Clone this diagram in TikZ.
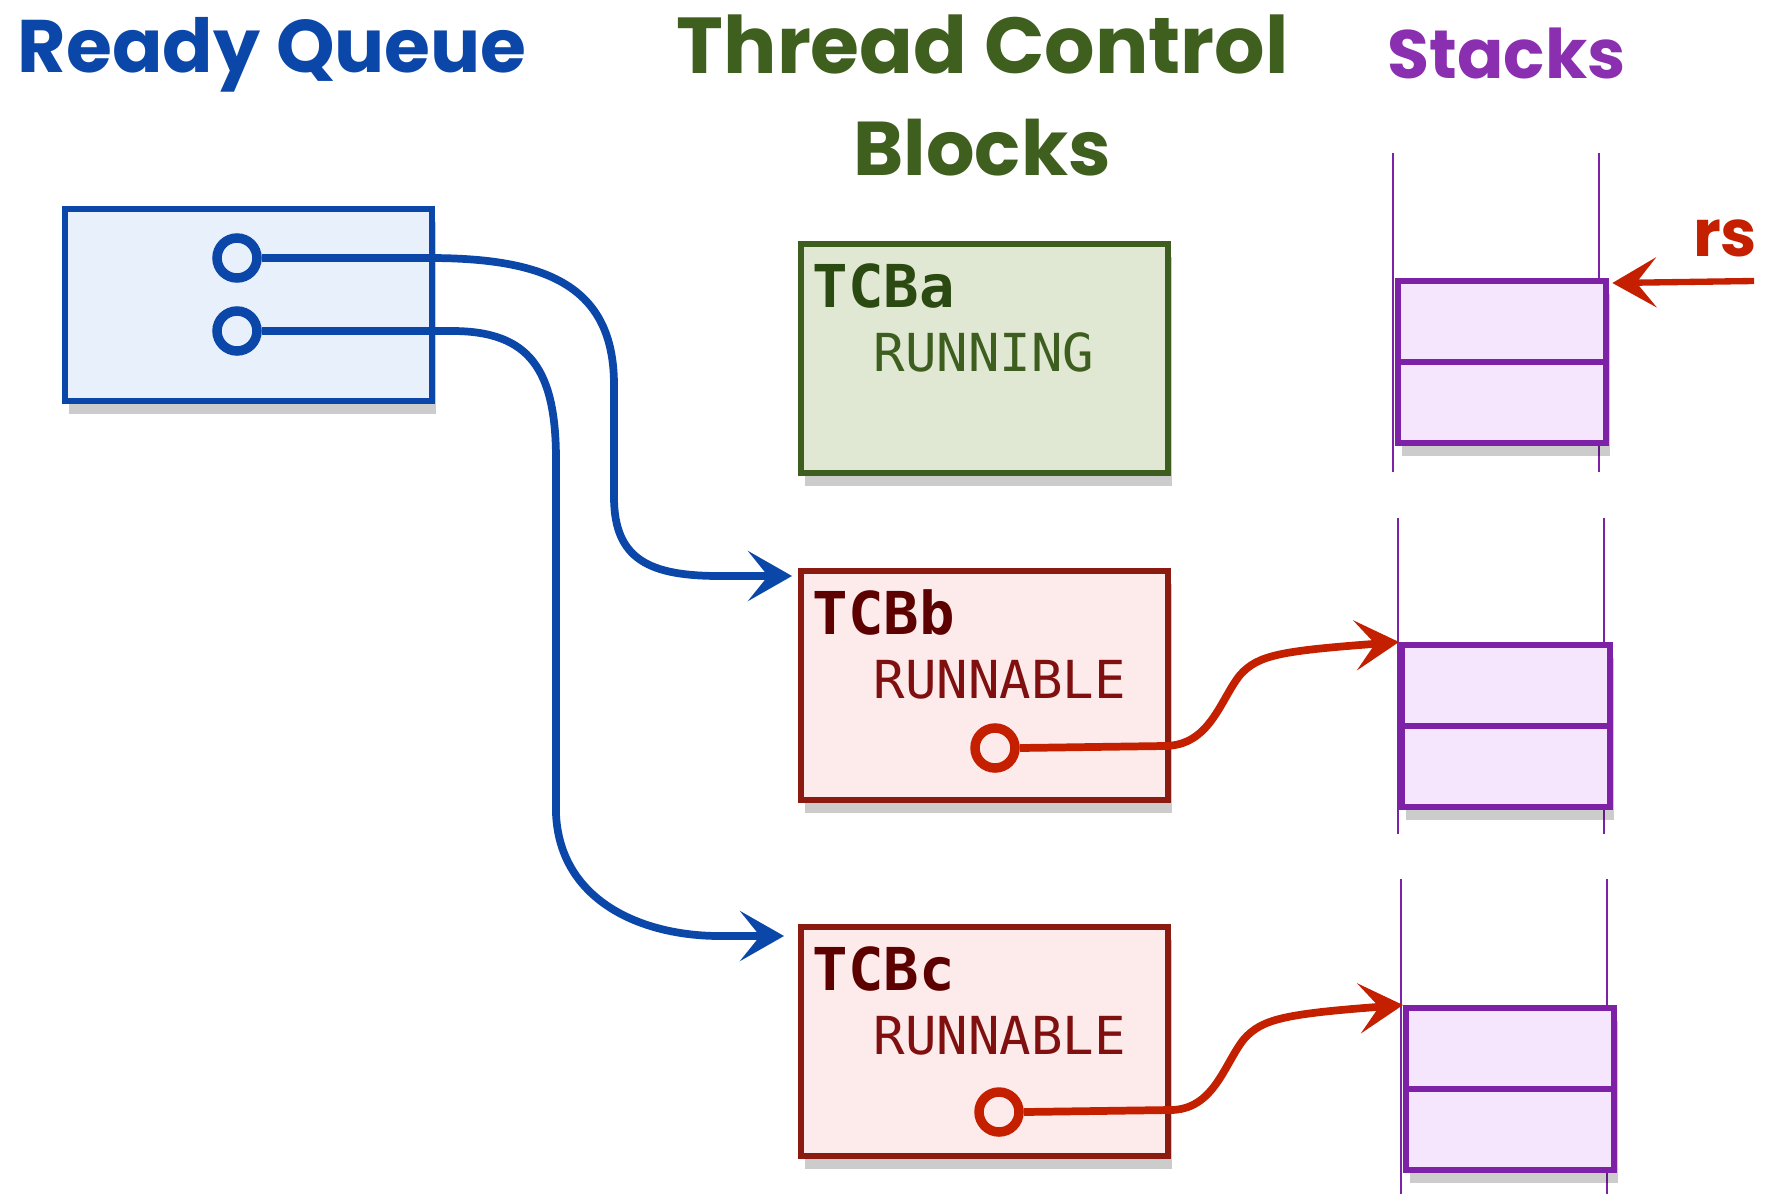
\documentclass[tikz,border=0pt]{standalone}
\usepackage{fontspec}
\setmonofont{DejaVu Sans Mono}
\newfontfamily\titlefont{Poppins}
\usetikzlibrary{arrows.meta,shadows,calc}
\definecolor{qblue}{HTML}{0B47A8}
\definecolor{qfill}{HTML}{E8F0FB}
\definecolor{gline}{HTML}{3D5E1E}
\definecolor{gfill}{HTML}{E0E8D4}
\definecolor{gtext}{HTML}{2B4A12}
\definecolor{rline}{HTML}{8B1A10}
\definecolor{rfill}{HTML}{FDEAEA}
\definecolor{rtext}{HTML}{5C0000}
\definecolor{rtext2}{HTML}{801010}
\definecolor{rarrow}{HTML}{C42000}
\definecolor{pline}{HTML}{7D22A6}
\definecolor{pfill}{HTML}{F6E6FD}
\definecolor{ptitle}{HTML}{8A2FB0}
\definecolor{gtitle}{HTML}{3F5F1F}
\begin{document}
\begin{tikzpicture}[x=0.1mm,y=-0.1mm,
  shad/.style={drop shadow={shadow xshift=0.4mm,shadow yshift=-1.3mm,opacity=0.2,fill=black}},
  boxbase/.style={anchor=north west,inner sep=0,line width=1.8pt,shad},
  qbox/.style={boxbase,draw=qblue,fill=qfill},
  gbox/.style={boxbase,draw=gline,fill=gfill},
  rbox/.style={boxbase,draw=rline,fill=rfill},
  tcbsize/.style={minimum width=36.7mm,minimum height=22.9mm},
  stackbox/.style={anchor=north west,inner sep=0,draw=pline,fill=pfill,line width=1.8pt,minimum width=20.8mm,minimum height=8.1mm,shad},
  stackline/.style={draw=pline,line width=0.8pt},
  ptr/.style={circle,inner sep=0,minimum size=4.0mm,line width=2.7pt},
  bluearrow/.style={draw=qblue,line width=2.2pt,-{Stealth[length=4.4mm,width=5mm,inset=2mm]}},
  redarrow/.style={draw=rarrow,line width=2.2pt,-{Stealth[length=4.4mm,width=5mm,inset=2mm]}},
  title/.style={anchor=base west,inner sep=0},
  tcbname/.style={anchor=base west,inner sep=0,font=\ttfamily\bfseries\fontsize{16.8pt}{20pt}\selectfont},
  tcbstate/.style={anchor=base west,inner sep=0,font=\ttfamily\fontsize{14.9pt}{18pt}\selectfont}
]
\useasboundingbox[fill=white] (0,0) rectangle (1772,1194);

% titles
\node[title,text=qblue] (tq) at (17,73) {\resizebox{50.9mm}{!}{\titlefont\bfseries Ready Queue}};
\node[title,text=gtitle] (tt) at (676,73) {\resizebox{61.2mm}{!}{\titlefont\bfseries Thread Control}};
\node[title,text=gtitle] (tb) at (853,175) {\resizebox{25.7mm}{!}{\titlefont\bfseries Blocks}};
\node[title,text=ptitle] (ts) at (1387,79) {\resizebox{23.8mm}{!}{\titlefont\bfseries Stacks}};

% ready queue
\node[qbox,minimum width=36.7mm,minimum height=19.2mm] (rq) at (62,206) {};
\node[ptr,draw=qblue] (q1) at (237,258) {};
\node[ptr,draw=qblue] (q2) at (237,331) {};

% TCBs
\node[gbox,tcbsize] (tcba) at (798,241) {};
\node[rbox,tcbsize] (tcbb) at (798,568) {};
\node[rbox,tcbsize] (tcbc) at (798,924) {};
\node[tcbname,text=gtext] (na) at (812,307) {TCBa};
\node[tcbstate,text=gline] (sa) at (873,371) {RUNNING};
\node[tcbname,text=rtext] (nb) at (812,634) {TCBb};
\node[tcbstate,text=rtext2] (sb) at (873,698) {RUNNABLE};
\node[tcbname,text=rtext] (nc) at (812,990) {TCBc};
\node[tcbstate,text=rtext2] (sc) at (873,1054) {RUNNABLE};
\node[ptr,draw=rarrow] (pb) at (995,748) {};
\node[ptr,draw=rarrow] (pc) at (999,1112) {};

% stacks
\draw[stackline] (1393,153) -- (1393,472);
\draw[stackline] (1599,153) -- (1599,472);
\node[stackbox] (s1a) at (1395,278) {};
\node[stackbox] (s1b) at (1395,359) {};
\draw[stackline] (1398,518) -- (1398,834);
\draw[stackline] (1604,518) -- (1604,834);
\node[stackbox] (s2a) at (1399,642) {};
\node[stackbox] (s2b) at (1399,723) {};
\draw[stackline] (1401,879) -- (1401,1194);
\draw[stackline] (1607,879) -- (1607,1194);
\node[stackbox] (s3a) at (1403,1005) {};
\node[stackbox] (s3b) at (1403,1086) {};

% blue pointers
\draw[bluearrow] (q1.east) -- (429,258) .. controls (545,258) and (614,285) .. (614,385)
  -- (614,497) .. controls (614,560) and (650,576) .. (720,576) -- ($(tcbb.north west)+(-6,8)$);
\draw[bluearrow] (q2.east) -- (452,331) .. controls (530,331) and (556,370) .. (556,460)
  -- (556,814) .. controls (560,900) and (640,936) .. (720,936) -- ($(tcbc.north west)+(-14,12)$);

% red pointers
\draw[redarrow] (pb.east) -- (1164,746) .. controls (1210,746) and (1220,700) .. (1240,675)
  .. controls (1258,655) and (1280,651) .. (s2a.north west);
\draw[redarrow] (pc.east) -- (1170,1110) .. controls (1214,1110) and (1224,1064) .. (1244,1039)
  .. controls (1262,1019) and (1284,1014) .. (s3a.north west);

% rs
\coordinate (rstail) at (1754,281);
\draw[redarrow,line width=1.8pt] (rstail) -- ($(s1a.north east)+(3,5)$);
\node[text=rarrow,inner sep=0] (rs) at (1725,238) {\resizebox{6.4mm}{!}{\titlefont\bfseries rs}};
\end{tikzpicture}
\end{document}
